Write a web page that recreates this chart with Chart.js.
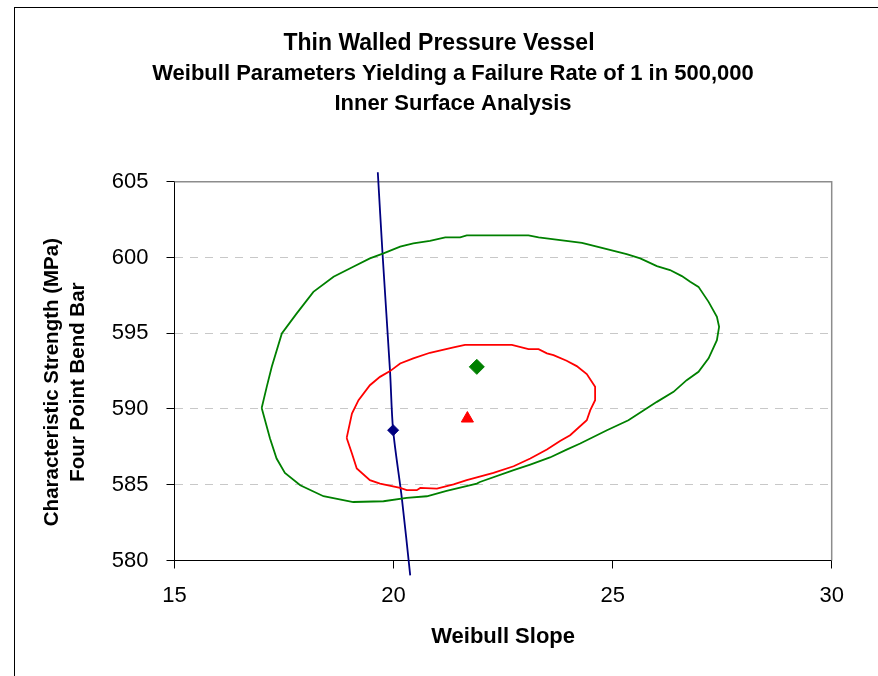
<!DOCTYPE html>
<html><head><meta charset="utf-8">
<script src="https://cdn.jsdelivr.net/npm/chart.js@4/dist/chart.umd.min.js"></script>
<style>html,body{margin:0;padding:0;background:#fff;}#wrap{width:878px;height:676px;}</style>
</head><body><div id="wrap"><canvas id="c" width="878" height="676"></canvas></div>
<script>
const titleText = 'Thin Walled Pressure Vessel';
const subtitleLines = ['Weibull Parameters Yielding a Failure Rate of 1 in 500,000', 'Inner Surface Analysis'];
const xAxisTitle = 'Weibull Slope';
const yAxisTitleLines = ['Characteristic Strength (MPa)', 'Four Point Bend Bar'];
const xTickValues = [15, 20, 25, 30];
const yTickValues = [580, 585, 590, 595, 600, 605];

// outer (green) contour
const outerSlope = [16.99,17.105,17.22,17.45,17.79,18.17,18.63,19.08,19.46,19.77,20.15,20.45,20.83,21.18,21.52,21.67,23.08,23.31,24.30,24.71,25.32,25.63,26.01,26.31,26.58,26.77,26.96,27.19,27.38,27.43,27.38,27.19,26.96,26.69,26.39,26.01,25.36,24.87,24.26,23.95,23.57,23.12,22.74,21.97,21.90,21.21,20.76,20.30,19.77,19.08,18.40,17.87,17.52,17.33,17.18,16.99];
const outerStrength = [590.07,591.46,592.78,594.99,596.31,597.73,598.73,599.39,599.94,600.27,600.71,600.93,601.10,601.33,601.33,601.46,601.46,601.33,600.97,600.67,600.22,599.94,599.43,599.17,598.77,598.39,598.06,597.07,596.08,595.42,594.54,593.34,592.45,591.90,591.13,590.47,589.26,588.60,587.72,587.32,586.80,586.33,585.96,585.18,585.08,584.59,584.24,584.13,583.91,583.86,584.24,584.97,585.78,586.73,588.05,590.07];

// inner (red) contour
const innerSlope = [18.93,19.05,19.20,19.46,19.69,19.92,20.15,20.45,20.83,21.37,21.63,22.70,23.08,23.31,23.50,23.65,23.95,24.18,24.41,24.60,24.60,24.49,24.41,24.03,23.80,23.50,23.12,22.74,22.28,21.67,21.37,20.99,20.61,20.53,20.30,20.15,19.69,19.46,19.16,19.05,18.93];
const innerStrength = [588.09,589.70,590.58,591.57,592.12,592.50,593.00,593.34,593.71,594.06,594.23,594.23,593.95,593.95,593.67,593.55,593.18,592.83,592.30,591.46,590.58,589.92,589.26,588.27,587.89,587.32,586.73,586.22,585.78,585.30,585.03,584.75,584.79,584.64,584.64,584.79,585.08,585.30,586.07,587.06,588.09];

// blue line
const lineSlope = [19.64, 19.75, 19.92, 19.99, 20.19, 20.38];
const lineStrength = [605.62, 600.16, 592.45, 588.60, 584.09, 579.02];

// point markers
const greenPointSlope = [21.90], greenPointStrength = [592.78];
const redPointSlope = [21.685], redPointStrength = [589.37];
const bluePointSlope = [19.99], bluePointStrength = [588.60];

const toXY = (xs, ys) => xs.map((x, i) => ({x: x, y: ys[i]}));
const FONT = '"Liberation Sans", Arial, Helvetica, sans-serif';

const decor = {
  id: 'decor',
  beforeDraw(chart) {
    const ctx = chart.ctx;
    ctx.save();
    ctx.fillStyle = '#fff';
    ctx.fillRect(0, 0, chart.width, chart.height);
    ctx.strokeStyle = '#000';
    ctx.lineWidth = 1;
    ctx.strokeRect(14.5, 7.5, chart.width + 20, chart.height + 20);
    ctx.restore();
  },
  beforeDatasetsDraw(chart) {
    const ctx = chart.ctx, a = chart.chartArea;
    ctx.save();
    ctx.strokeStyle = '#8c8c8c';
    ctx.lineWidth = 1.5;
    ctx.beginPath();
    ctx.moveTo(a.left, a.top);
    ctx.lineTo(a.right, a.top);
    ctx.lineTo(a.right, a.bottom);
    ctx.stroke();
    ctx.restore();
  },
  afterDraw(chart) {
    const ctx = chart.ctx, a = chart.chartArea;
    ctx.save();
    ctx.fillStyle = '#000';
    ctx.textAlign = 'center';
    ctx.textBaseline = 'middle';
    ctx.font = 'bold 22px ' + FONT;
    subtitleLines.forEach((t, i) => ctx.fillText(t, 453, 74 + i * 29.5));
    ctx.translate(52, (a.top + a.bottom) / 2 + 11);
    ctx.rotate(-Math.PI / 2);
    ctx.font = 'bold 20.5px ' + FONT;
    yAxisTitleLines.forEach((t, i) => ctx.fillText(t, 0, i * 26.5));
    ctx.restore();
  }
};

new Chart(document.getElementById('c'), {
  type: 'scatter',
  data: {
    datasets: [
      {label: 'outer', data: toXY(outerSlope, outerStrength), showLine: true, borderColor: '#008000', borderWidth: 1.8, pointRadius: 0, tension: 0, fill: false},
      {label: 'inner', data: toXY(innerSlope, innerStrength), showLine: true, borderColor: '#ff0000', borderWidth: 1.8, pointRadius: 0, tension: 0, fill: false},
      {label: 'line', data: toXY(lineSlope, lineStrength), showLine: true, borderColor: '#000080', borderWidth: 1.8, pointRadius: 0, tension: 0.3, fill: false, clip: false},
      {label: 'gp', data: toXY(greenPointSlope, greenPointStrength), pointStyle: 'rectRot', pointRadius: 7.5, backgroundColor: '#008000', borderColor: '#008000', borderWidth: 1},
      {label: 'rp', data: toXY(redPointSlope, redPointStrength), pointStyle: 'triangle', pointRadius: 7, backgroundColor: '#ff0000', borderColor: '#ff0000', borderWidth: 1},
      {label: 'bp', data: toXY(bluePointSlope, bluePointStrength), pointStyle: 'rectRot', pointRadius: 5.5, backgroundColor: '#000080', borderColor: '#000080', borderWidth: 1}
    ]
  },
  options: {
    responsive: false,
    animation: false,
    devicePixelRatio: 1,
    layout: {padding: {top: 0, left: 0, right: 0, bottom: 0}},
    plugins: {
      legend: {display: false},
      tooltip: {enabled: false},
      title: {display: true, text: titleText, color: '#000', font: {family: FONT, size: 23, weight: 'bold', lineHeight: 1.2}, padding: {top: 29.4, bottom: 124.7}},
      subtitle: {display: false}
    },
    scales: {
      x: {
        type: 'linear', min: 15, max: 30,
        afterBuildTicks: s => { s.ticks = xTickValues.map(v => ({value: v})); },
        afterFit: s => { s.height = 115.5; },
        ticks: {color: '#000', font: {family: FONT, size: 22}, padding: 14},
        grid: {drawOnChartArea: false, tickLength: 8, tickColor: '#000'},
        border: {color: '#000', width: 1},
        title: {display: true, text: xAxisTitle, color: '#000', font: {family: FONT, size: 22, weight: 'bold', lineHeight: 1.2}, padding: {top: 0, bottom: 25.5}}
      },
      y: {
        type: 'linear', min: 580, max: 605,
        afterBuildTicks: s => { s.ticks = yTickValues.map(v => ({value: v})); },
        afterFit: s => { s.width = 174.5; },
        ticks: {color: '#000', font: {family: FONT, size: 22}, padding: 18},
        grid: {
          color: c => (c.tick && (c.tick.value === 580 || c.tick.value === 605)) ? 'rgba(0,0,0,0)' : '#c8c8c8',
          tickLength: 8, tickColor: '#000', lineWidth: 1
        },
        border: {color: '#000', width: 1, dash: [8, 7]}
      },
      y2: {
        position: 'right', display: true,
        afterFit: s => { s.width = 46.3; },
        ticks: {display: false},
        grid: {display: false, drawTicks: false},
        border: {display: false}
      }
    }
  },
  plugins: [decor]
});
</script>
</body></html>
